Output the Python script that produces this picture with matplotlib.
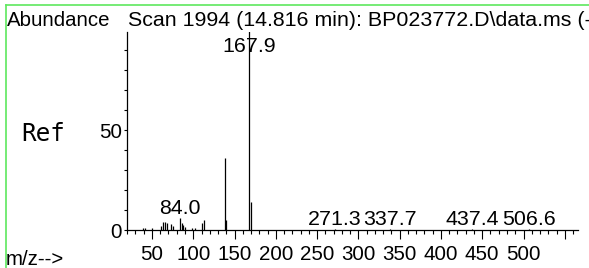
import numpy as np
import matplotlib
matplotlib.use("Agg")
import matplotlib.pyplot as plt
from matplotlib.lines import Line2D
from matplotlib.ticker import MultipleLocator

# peaks (m/z, relative abundance)
mz = [39, 41, 50, 61, 63, 65.5, 68.5, 72.5, 75, 84, 86, 88, 90, 98.5, 102,
      111, 113, 138.5, 139.6, 167.9, 169.5, 271.3, 337.7, 437.4, 506.6]
abundance = [1.2, 0.8, 1.0, 2.0, 3.8, 3.8, 3.3, 2.8, 2.0, 5.8, 3.3, 2.5, 1.5, 1.0, 1.0,
             3.3, 5.0, 36.0, 5.0, 100.0, 14.0, 0.3, 0.3, 0.3, 0.3]

labelled = ["84.0", "167.9", "271.3", "337.7", "437.4", "506.6"]
labelled_mz = [84.0, 167.9, 271.3, 337.7, 437.4, 506.6]
labelled_ab = [5.8, 100.0, 0.3, 0.3, 0.3, 0.3]

xticks = [50, 100, 150, 200, 250, 300, 350, 400, 450, 500, 550]
xticklabels = ["50", "100", "150", "200", "250", "300", "350", "400", "450", "500", ""]
yticks = [0, 50]

title = "Scan 1994 (14.816 min): BP023772.D\\data.ms (-"

W, H = 589, 268
plt.rcParams["font.family"] = ["Liberation Sans", "DejaVu Sans"]

fig = plt.figure(figsize=(W / 100, H / 100), dpi=100)


def px(x, y):
    return x / W, 1 - y / H


# green frame, only its left and top edges fall inside the picture
frame_kw = dict(color="#5ee85e", linewidth=1.2, transform=fig.transFigure)
fig.add_artist(Line2D([5.5 / W, 5.5 / W], [0, 1 - 4.5 / H], **frame_kw))
fig.add_artist(Line2D([5.5 / W, 1], [1 - 4.5 / H, 1 - 4.5 / H], **frame_kw))

x0, x1 = 127.2, 578
y0, y1 = 32, 230
ax = fig.add_axes([x0 / W, 1 - y1 / H, (x1 - x0) / W, (y1 - y0) / H])

ax.vlines(mz, 0, abundance, color="black", linewidth=0.9)

for lab, m, a in zip(labelled, labelled_mz, labelled_ab):
    ax.text(m, min(a + 2.3, 89), lab, ha="center", va="baseline", fontsize=15.4)

ax.set_xlim(20, 566)
ax.set_ylim(0, 99)
ax.set_xticks(xticks)
ax.set_xticklabels(xticklabels, fontsize=14.8)
ax.xaxis.set_minor_locator(MultipleLocator(10))
ax.set_yticks(yticks)
ax.set_yticklabels([str(v) for v in yticks], fontsize=14.8)
ax.yaxis.set_minor_locator(MultipleLocator(10))

ax.tick_params(axis="x", which="major", length=6.5, width=0.8, pad=4)
ax.tick_params(axis="x", which="minor", length=3.2, width=0.8)
ax.tick_params(axis="y", which="major", length=2, width=0.8, pad=2)
ax.tick_params(axis="y", which="minor", length=2, width=0.8)

for side in ["top", "right"]:
    ax.spines[side].set_visible(False)
for side in ["left", "bottom"]:
    ax.spines[side].set_linewidth(0.9)
ax.patch.set_visible(False)

fig.text(*px(7, 26), "Abundance", fontsize=14.7, va="baseline")
fig.text(*px(128, 26), title, fontsize=15.4, va="baseline")
fig.text(*px(21, 141), "Ref", fontsize=17.5, va="baseline", family="DejaVu Sans Mono")
fig.text(*px(6, 265), "m/z-->", fontsize=14.7, va="baseline")

fig.savefig("out.png", dpi=100)
